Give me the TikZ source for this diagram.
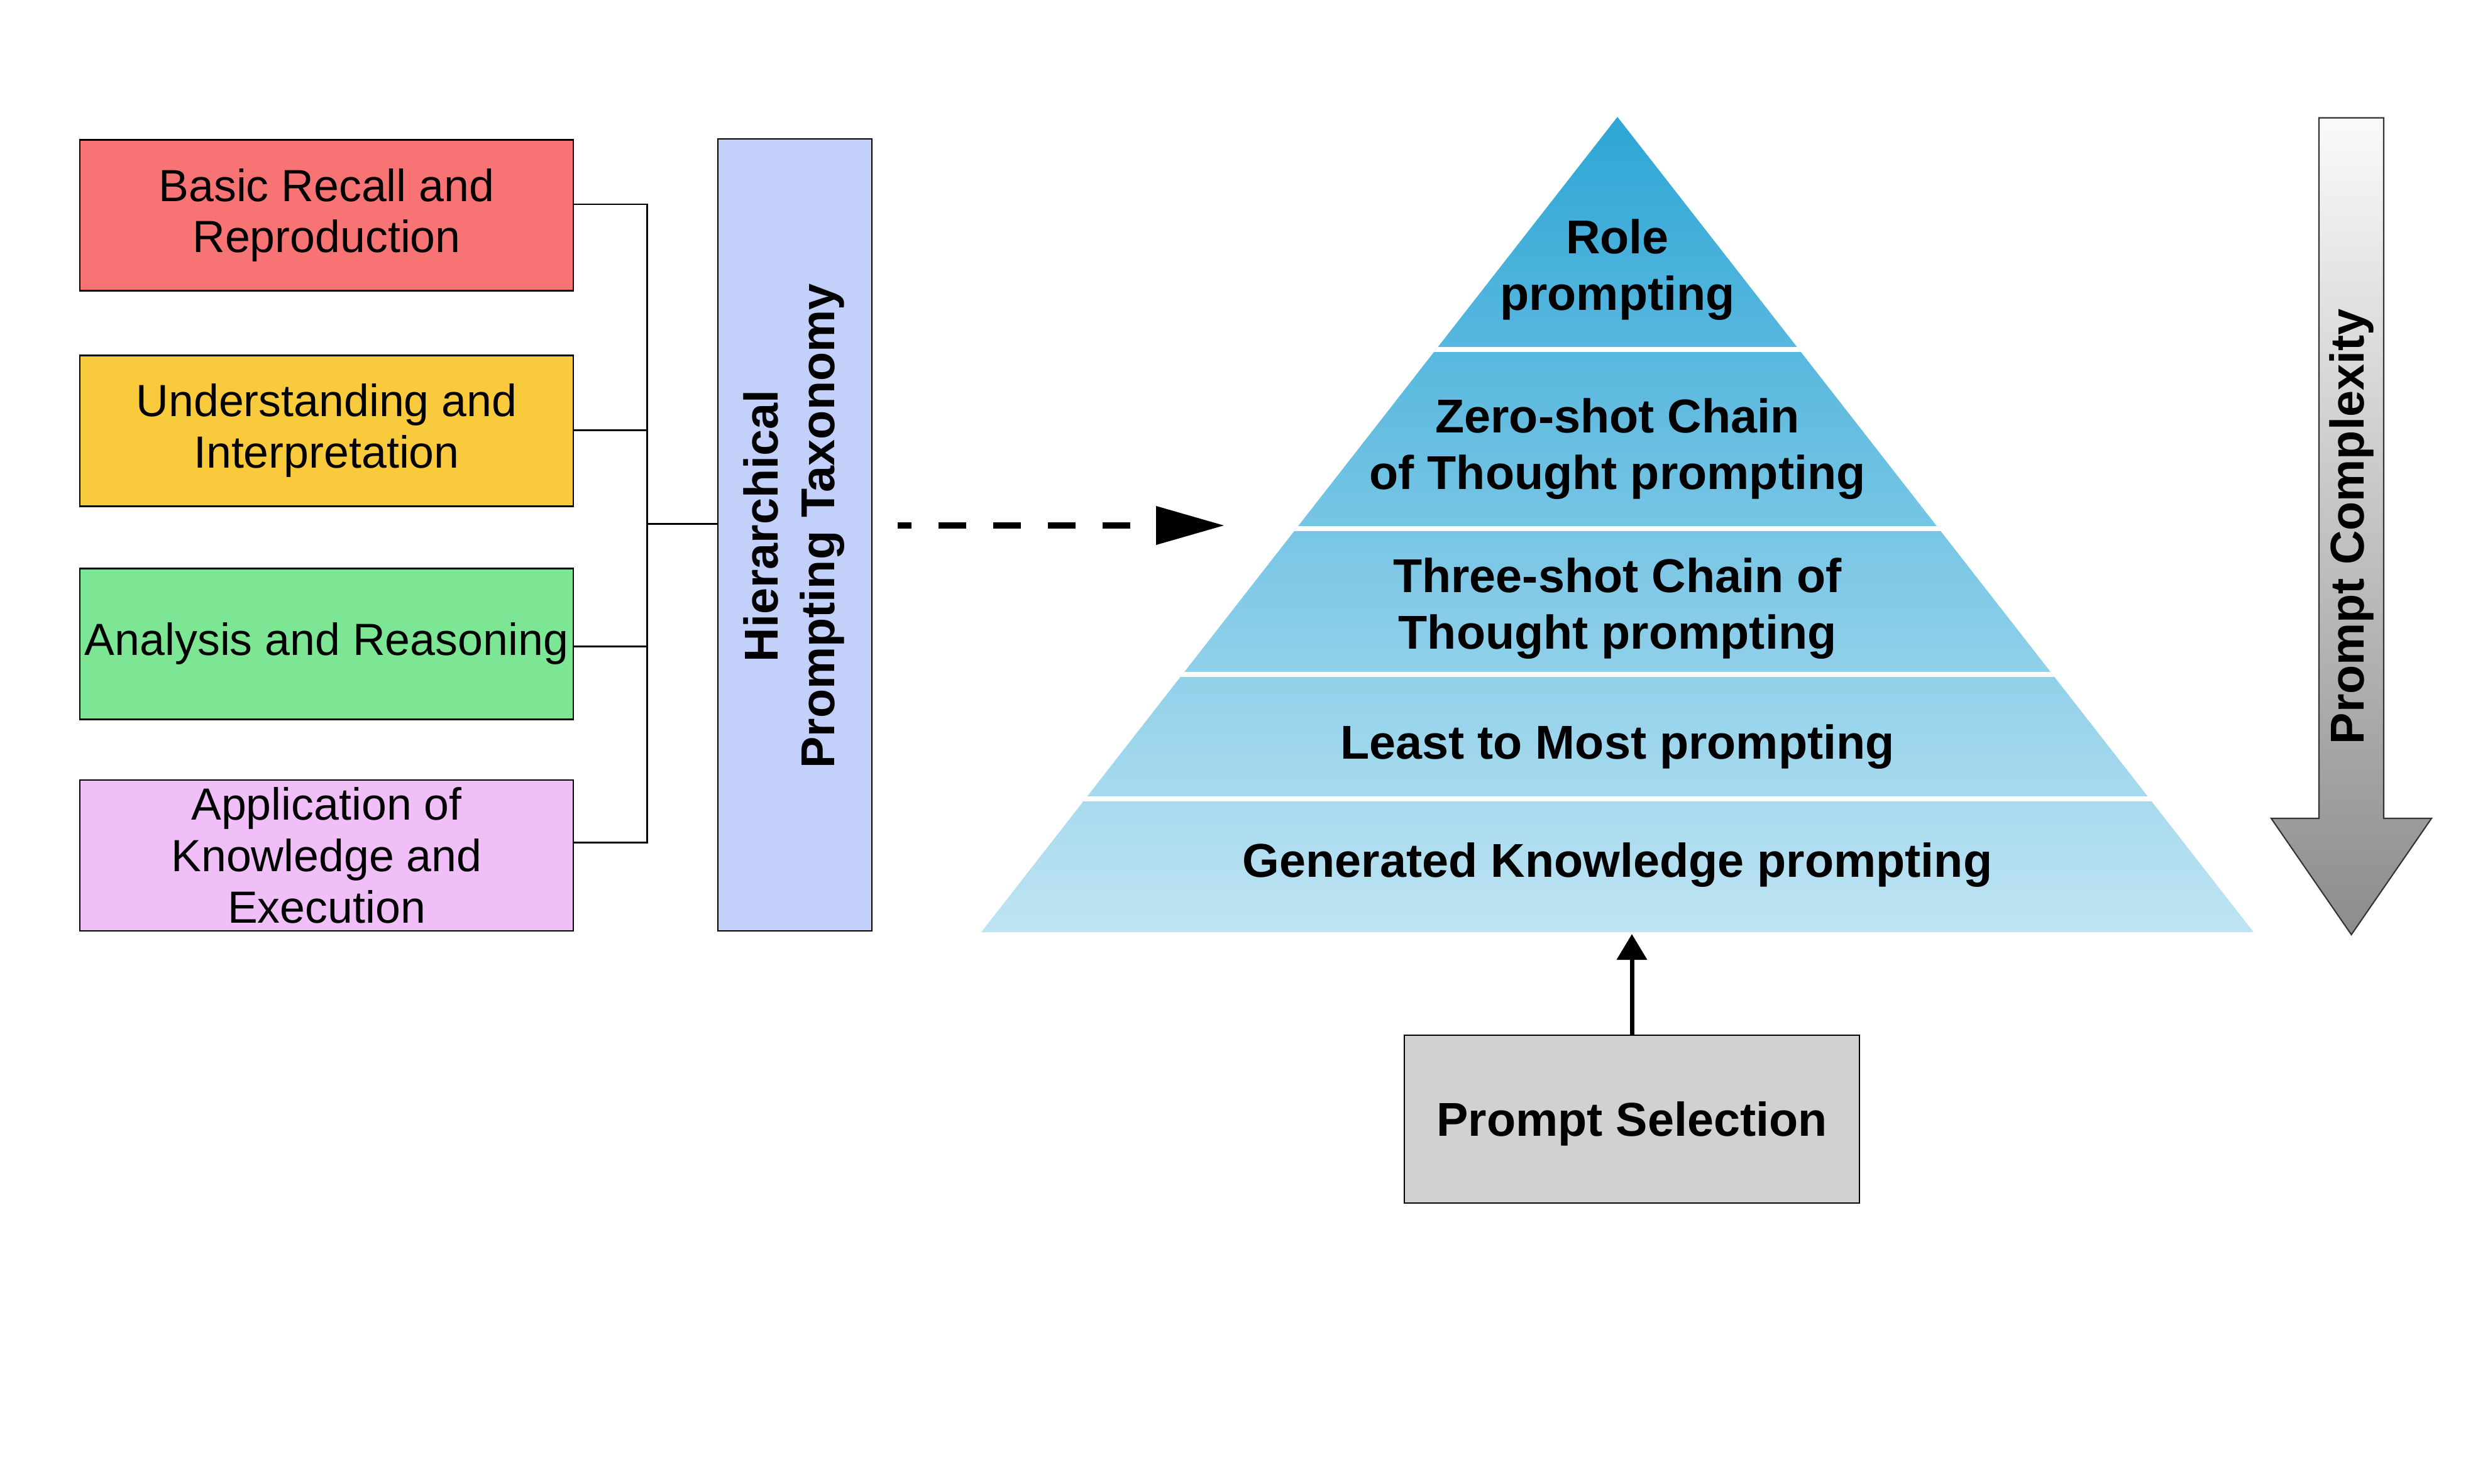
\documentclass[tikz,border=0pt]{standalone}
\usepackage{fontspec}
\setmainfont{Liberation Sans}
\usepackage{xcolor}
\usepackage{tikz}
\usetikzlibrary{arrows.meta, positioning, calc}

\definecolor{recallred}{HTML}{F87474}
\definecolor{understandyellow}{HTML}{F9CA3B}
\definecolor{analysisgreen}{HTML}{7DE695}
\definecolor{applypink}{HTML}{F0BFF8}
\definecolor{taxblue}{HTML}{C2D0FA}
\definecolor{selectgray}{HTML}{D1D1D1}
\definecolor{pyrtop}{HTML}{2EA6D6}
\definecolor{pyrbottom}{HTML}{BFE4F3}
\newcommand{\catfont}{\fontsize{20.4}{23.3}\selectfont}
\newcommand{\tierfont}{\fontsize{21.5}{25.6}\selectfont\bfseries}

\begin{document}
\begin{tikzpicture}[node distance=0.97cm]
        % Stijlen
        \tikzstyle{category} = [rectangle, minimum width=7.85cm, minimum height=2.4cm, inner sep=0pt, text centered, align=center, draw=black, line width=0.8pt, font=\catfont]
        \tikzstyle{taxbox} = [rectangle, minimum width=2.45cm, minimum height=12.6cm, inner sep=0pt, text depth=0.28cm, draw=black, line width=0.8pt, fill=taxblue, font=\tierfont]
        \tikzstyle{tier} = [align=center, font=\tierfont]
        \tikzstyle{selectbox} = [rectangle, minimum width=7.24cm, minimum height=2.67cm, text height=0.69cm, text depth=0.16cm, draw=black, line width=0.8pt, fill=selectgray, font=\tierfont]
        \tikzstyle{link} = [line width=0.85pt]
        \tikzstyle{dasharrow} = [line width=3pt, dash pattern=on 0.44cm off 0.43cm, dash phase=0.22cm, -{Triangle[length=1.09cm, width=0.59cm]}]
        \tikzstyle{uparrow} = [line width=2pt, -{Triangle[length=0.41cm, width=0.47cm]}]

        \useasboundingbox (0,0) rectangle (39.42,-23.61);

        % Categorieen links
        \node (recall) [category, fill=recallred] at (5.195,-3.425) {Basic Recall and\\Reproduction};
        \node (understand) [category, fill=understandyellow, below=1.0cm of recall] {Understanding and\\Interpretation};
        \node (analysis) [category, fill=analysisgreen, below=0.96cm of understand] {Analysis and Reasoning};
        \node (apply) [category, fill=applypink, below=0.94cm of analysis] {Application of\\Knowledge and\\Execution};
        \node (tax) [taxbox] at (12.645,-8.51) {\rotatebox{90}{\begin{tabular}{@{}c@{}}Hierarchical\\Prompting Taxonomy\end{tabular}}};
        \coordinate (bus) at (10.29,-8.33);

        % Verbindingen
        \draw [link] ([yshift=0.175cm]recall.east) -| (bus);
        \draw [link] ([yshift=0.01cm]understand.east) -| (bus);
        \draw [link] ([yshift=-0.04cm]analysis.east) -| (bus);
        \draw [link] ([yshift=0.2cm]apply.east) -| (bus);
        \draw [link] (bus) -- (bus -| tax.west);

        % Piramide
        \coordinate (apex) at (25.73,-1.86);
        \coordinate (baseleft) at (15.61,-14.83);
        \coordinate (baseright) at (35.85,-14.83);
        \shade [top color=pyrtop, bottom color=pyrbottom] (apex) -- (baseleft) -- (baseright) -- cycle;
        \begin{scope}
            \clip (apex) -- (baseleft) -- (baseright) -- cycle;
            \foreach \y in {5.555, 8.41, 10.725, 12.71}
                \draw [white, line width=0.08cm] (15,-\y) -- (36.5,-\y);
        \end{scope}
        \node (role) [tier] at (25.73,-4.295) {Role\\prompting};
        \node (zeroshot) [tier] at (25.73,-7.14) {Zero-shot Chain\\of Thought prompting};
        \node (threeshot) [tier] at (25.73,-9.685) {Three-shot Chain of\\Thought prompting};
        \node (leasttomost) [tier] at (25.73,-11.88) {Least to Most prompting};
        \node (genknow) [tier] at (25.73,-13.76) {Generated Knowledge prompting};

        % Pijlen
        \coordinate (tiptarget) at (19.48,-8.36);
        \draw [dasharrow] ($(tax.east |- tiptarget)+(0.4,0)$) -- (tiptarget);
        \node (select) [selectbox] at (25.96,-17.805) {Prompt Selection};
        \coordinate (pyrbase) at (25.96,-14.86);
        \draw [uparrow] (select.north) -- (pyrbase);

        % Complexiteit
        \draw [line width=0.6pt, draw=black!80, top color=white!98!black, bottom color=black!45] (36.89,-1.875) -- (37.92,-1.875) -- (37.92,-13.02) -- (38.68,-13.02) -- (37.405,-14.87) -- (36.13,-13.02) -- (36.89,-13.02) -- cycle;
        \node (complexity) [font=\tierfont, rotate=90] at (37.405,-8.38) {Prompt Complexity};
\end{tikzpicture}
\end{document}
